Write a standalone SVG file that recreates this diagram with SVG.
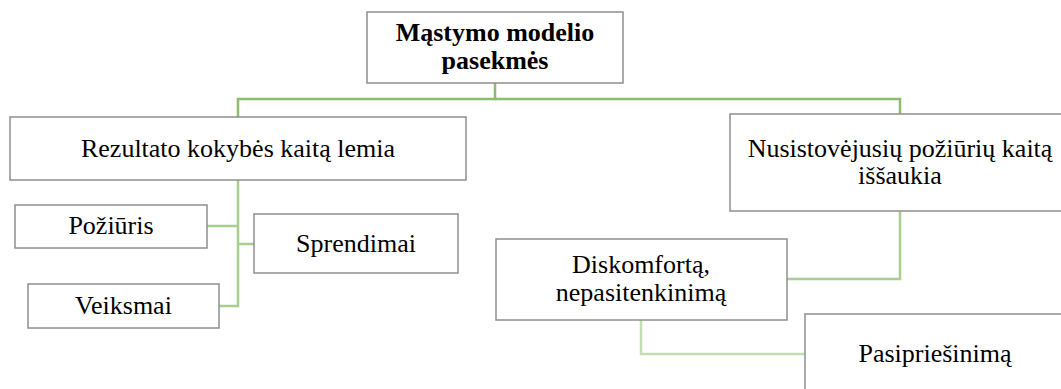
<svg xmlns="http://www.w3.org/2000/svg" width="1061" height="389" viewBox="0 0 1061 389">
  <style>
    .box { fill: #ffffff; stroke: #8f8f8f; stroke-width: 1.5; }
    .t { font-family: 'Liberation Serif', 'Times New Roman', Times, serif; font-size: 26px; fill: #000000; text-anchor: middle; }
    .b { font-weight: bold; }
    .c1 { fill: none; stroke: #8dbb6f; stroke-width: 2.5; }
    .c2 { fill: none; stroke: #a8cf8f; stroke-width: 2.5; }
    .c3 { fill: none; stroke: #c3deb2; stroke-width: 2.5; }
  </style>
  <rect width="1061" height="389" fill="#ffffff"/>
  <g id="connectors">
    <path class="c1" d="M495 83 V99 H238 V117"/>
    <path class="c1" d="M495 99 H900 V114"/>
    <path class="c2" d="M238 180 V306 H219"/>
    <path class="c2" d="M238 226 H207"/>
    <path class="c2" d="M238 244 H254"/>
    <path class="c2" d="M900 211 V279 H787"/>
    <path class="c3" d="M641 320 V354 H805"/>
  </g>
  <g id="node-root">
    <rect class="box" x="367" y="12" width="256" height="71"/>
    <text class="t b" x="495" y="41">Mąstymo modelio</text>
    <text class="t b" x="495" y="69">pasekmės</text>
  </g>
  <g id="node-rezultato">
    <rect class="box" x="10" y="117" width="456" height="63"/>
    <text class="t" x="238" y="157">Rezultato kokybės kaitą lemia</text>
  </g>
  <g id="node-poziuris">
    <rect class="box" x="15" y="205" width="192" height="43"/>
    <text class="t" x="111" y="234">Požiūris</text>
  </g>
  <g id="node-sprendimai">
    <rect class="box" x="254" y="214" width="204" height="59"/>
    <text class="t" x="356" y="252">Sprendimai</text>
  </g>
  <g id="node-veiksmai">
    <rect class="box" x="28" y="284" width="191" height="44"/>
    <text class="t" x="123.5" y="314">Veiksmai</text>
  </g>
  <g id="node-nusistovejusiu">
    <rect class="box" x="730" y="114" width="340" height="97"/>
    <text class="t" x="900" y="157">Nusistovėjusių požiūrių kaitą</text>
    <text class="t" x="900" y="184">iššaukia</text>
  </g>
  <g id="node-diskomforta">
    <rect class="box" x="496" y="239" width="291" height="81"/>
    <text class="t" x="641" y="273">Diskomfortą,</text>
    <text class="t" x="641" y="301">nepasitenkinimą</text>
  </g>
  <g id="node-pasipriesinima">
    <rect class="box" x="805" y="314" width="262" height="85"/>
    <text class="t" x="935" y="362">Pasipriešinimą</text>
  </g>
</svg>
